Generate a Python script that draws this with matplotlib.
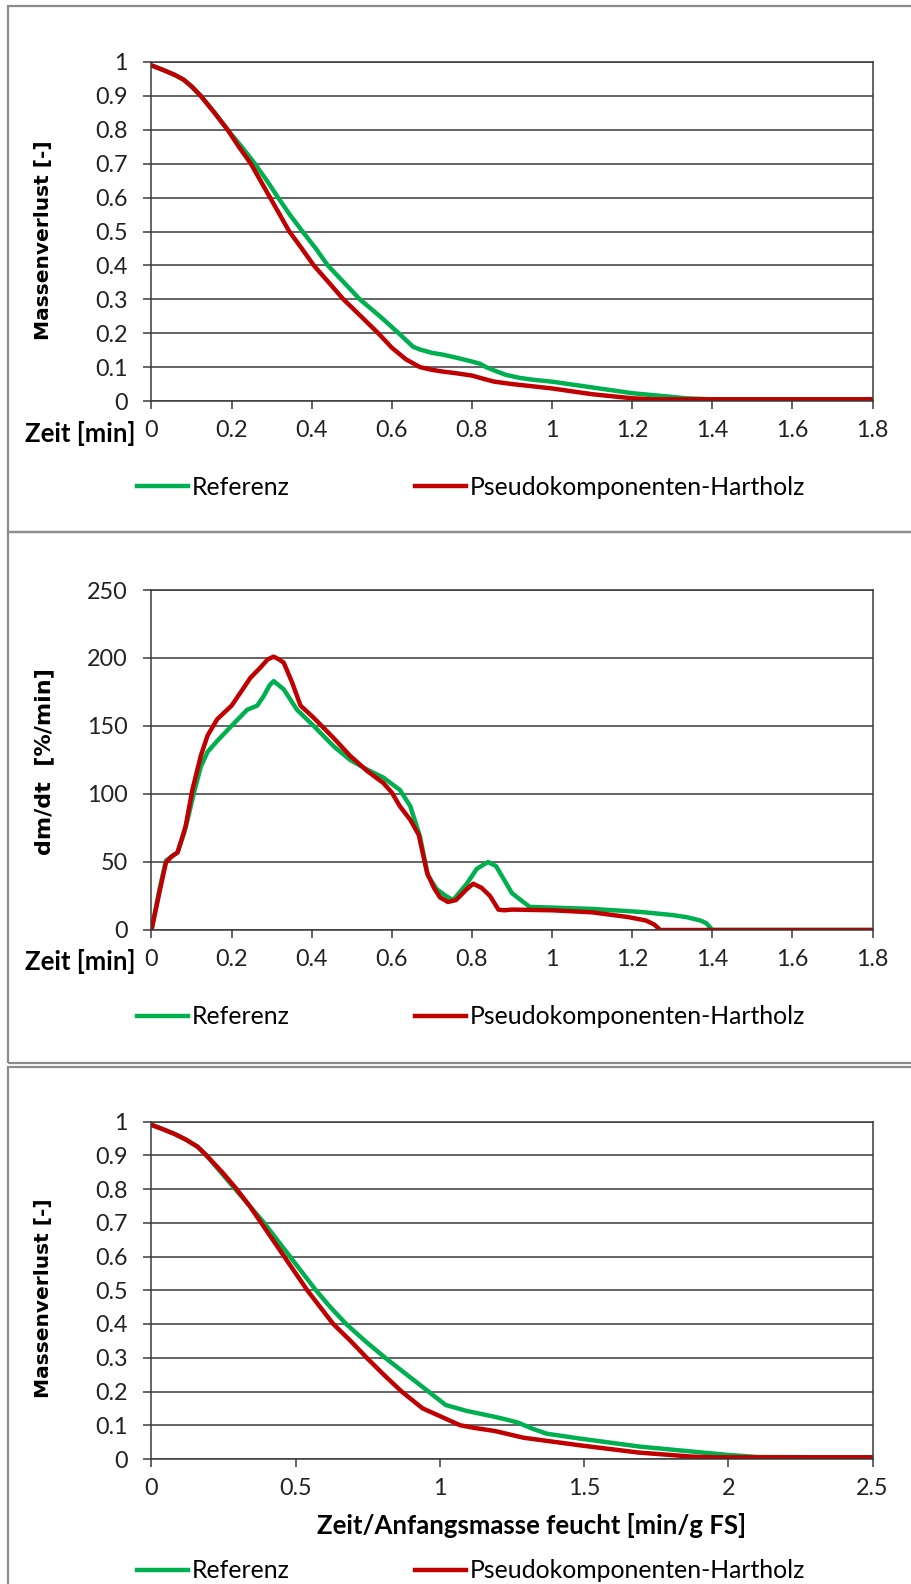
import matplotlib
matplotlib.use("Agg")
import matplotlib.pyplot as plt
from matplotlib.patches import Rectangle

plt.rcParams['font.family'] = ['Lato', 'DejaVu Sans']

# --- Daten ---

# Massenverlust ueber Zeit [min]
t1_ref = [0, 0.03, 0.058, 0.08, 0.1, 0.123, 0.155, 0.19, 0.225, 0.258, 0.288, 0.316, 0.345, 0.377, 0.41,
          0.44, 0.48, 0.52, 0.57, 0.617, 0.653, 0.67, 0.7, 0.726, 0.76, 0.798, 0.82, 0.835, 0.86, 0.885,
          0.92, 0.95, 1.0, 1.1, 1.2, 1.3, 1.335, 1.4, 1.6, 1.8]
m1_ref = [0.99, 0.976, 0.962, 0.948, 0.928, 0.9, 0.855, 0.8, 0.75, 0.7, 0.65, 0.6, 0.55, 0.5, 0.45,
          0.4, 0.35, 0.3, 0.25, 0.2, 0.16, 0.152, 0.142, 0.137, 0.128, 0.117, 0.11, 0.1, 0.088, 0.077,
          0.068, 0.063, 0.057, 0.04, 0.023, 0.012, 0.008, 0.005, 0.005, 0.005]
t1_pk = [0, 0.03, 0.058, 0.08, 0.1, 0.123, 0.155, 0.19, 0.218, 0.248, 0.272, 0.296, 0.32, 0.344, 0.375,
         0.405, 0.44, 0.479, 0.52, 0.566, 0.6, 0.635, 0.67, 0.7, 0.726, 0.76, 0.8, 0.83, 0.856, 0.9,
         1.0, 1.1, 1.2, 1.25, 1.4, 1.6, 1.8]
m1_pk = [0.99, 0.976, 0.962, 0.948, 0.928, 0.9, 0.853, 0.8, 0.75, 0.7, 0.65, 0.6, 0.55, 0.5, 0.45,
         0.4, 0.353, 0.3, 0.253, 0.2, 0.157, 0.123, 0.1, 0.092, 0.087, 0.082, 0.075, 0.065, 0.057, 0.05,
         0.037, 0.02, 0.008, 0.005, 0.005, 0.005, 0.005]

# dm/dt [%/min] ueber Zeit [min]
t2_ref = [0, 0.02, 0.036, 0.05, 0.065, 0.08, 0.09, 0.106, 0.123, 0.14, 0.164, 0.206, 0.239, 0.264, 0.28,
          0.295, 0.305, 0.33, 0.363, 0.405, 0.455, 0.496, 0.538, 0.579, 0.62, 0.646, 0.67, 0.69, 0.712, 0.735,
          0.753, 0.787, 0.812, 0.84, 0.86, 0.9, 0.944, 1.0, 1.1, 1.22, 1.3, 1.335, 1.37, 1.385, 1.4,
          1.6, 1.8]
r2_ref = [0, 30, 51, 54, 57, 70, 81, 101, 120, 131, 139, 152, 162, 165, 172,
          180, 183, 177, 162, 150, 135, 125, 118, 112, 103, 91, 69, 40, 30, 25,
          22, 34, 45, 50, 47, 27, 17, 16.5, 15.5, 13.3, 11, 9.5, 7, 5, 0,
          0, 0]
t2_pk = [0, 0.02, 0.036, 0.05, 0.065, 0.085, 0.102, 0.123, 0.14, 0.164, 0.2, 0.222, 0.247, 0.272, 0.29,
         0.305, 0.318, 0.33, 0.351, 0.372, 0.405, 0.455, 0.496, 0.538, 0.579, 0.6, 0.62, 0.646, 0.667, 0.688,
         0.705, 0.72, 0.74, 0.76, 0.787, 0.803, 0.824, 0.845, 0.866, 0.88, 0.9, 1.0, 1.1, 1.19, 1.234,
         1.255, 1.27, 1.4, 1.6, 1.8]
r2_pk = [0, 28, 49.5, 54, 57, 76, 103, 128, 143, 155, 165, 174.5, 185.5, 193, 199,
         201, 199, 196.6, 182, 165, 156, 141, 128, 117, 108, 101, 91, 81, 70, 42,
         31, 24, 20.6, 22, 30, 34, 31, 25, 15, 14.5, 15, 14.5, 13, 9.5, 7,
         4, 0, 0, 0, 0]

# Massenverlust ueber Zeit/Anfangsmasse feucht [min/g FS]
x3_ref = [0, 0.04, 0.08, 0.12, 0.16, 0.19, 0.24, 0.29, 0.34, 0.39, 0.435, 0.48, 0.525, 0.57, 0.62,
          0.675, 0.74, 0.81, 0.885, 0.96, 1.02, 1.09, 1.19, 1.23, 1.27, 1.32, 1.37, 1.49, 1.69, 1.9,
          2.0, 2.1, 2.3, 2.5]
m3_ref = [0.99, 0.977, 0.963, 0.946, 0.925, 0.9, 0.85, 0.8, 0.75, 0.7, 0.65, 0.6, 0.55, 0.5, 0.45,
          0.4, 0.35, 0.3, 0.25, 0.2, 0.16, 0.143, 0.125, 0.117, 0.108, 0.09, 0.075, 0.06, 0.037, 0.02,
          0.012, 0.006, 0.005, 0.005]
x3_pk = [0, 0.04, 0.08, 0.12, 0.16, 0.19, 0.245, 0.295, 0.34, 0.38, 0.42, 0.46, 0.5, 0.54, 0.585,
         0.63, 0.69, 0.746, 0.805, 0.867, 0.94, 1.0, 1.07, 1.12, 1.19, 1.29, 1.49, 1.69, 1.875, 1.95,
         2.2, 2.5]
m3_pk = [0.99, 0.977, 0.963, 0.946, 0.925, 0.9, 0.85, 0.8, 0.75, 0.7, 0.65, 0.6, 0.55, 0.5, 0.45,
         0.4, 0.35, 0.3, 0.25, 0.2, 0.15, 0.127, 0.1, 0.092, 0.083, 0.063, 0.04, 0.019, 0.007, 0.005,
         0.005, 0.005]

# Achsenbeschriftungen
xt_zeit = [0, 0.2, 0.4, 0.6, 0.8, 1.0, 1.2, 1.4, 1.6, 1.8]
xl_zeit = ["0", "0.2", "0.4", "0.6", "0.8", "1", "1.2", "1.4", "1.6", "1.8"]
yt_mass = [0, 0.1, 0.2, 0.3, 0.4, 0.5, 0.6, 0.7, 0.8, 0.9, 1.0]
yl_mass = ["0", "0.1", "0.2", "0.3", "0.4", "0.5", "0.6", "0.7", "0.8", "0.9", "1"]
yt_rate = [0, 50, 100, 150, 200, 250]
yl_rate = ["0", "50", "100", "150", "200", "250"]
xt_norm = [0, 0.5, 1.0, 1.5, 2.0, 2.5]
xl_norm = ["0", "0.5", "1", "1.5", "2", "2.5"]

lbl_ref = "Referenz"
lbl_pk = "Pseudokomponenten-Hartholz"
GREEN = "#00B050"
RED = "#C00000"

W, H = 912, 1584
fig = plt.figure(figsize=(W / 100, H / 100), dpi=100)


def fx(x):
    return x / W


def fy(y):
    return 1 - y / H


# Rahmen der drei Diagramme
for y0, y1 in [(6, 532), (532, 1063), (1067, 1620)]:
    fig.patches.append(Rectangle((fx(8), fy(y1)), fx(940 - 8), (y1 - y0) / H, transform=fig.transFigure,
                                 fill=False, edgecolor="#8c8c8c", lw=1.6))


def make_axes(top, bottom):
    return fig.add_axes([fx(151.5), fy(bottom), fx(872.6 - 151.5), (bottom - top) / H])


def style(ax, xmax, xt, xl, ymax, yt, yl):
    ax.set_xlim(0, xmax)
    ax.set_ylim(0, ymax)
    ax.set_xticks(xt, xl)
    ax.set_yticks(yt, yl)
    ax.grid(axis="y", color="#3a3a3a", lw=1.1)
    ax.set_axisbelow(True)
    for s in ax.spines.values():
        s.set_color("#3a3a3a")
        s.set_linewidth(1.1)
    ax.tick_params(axis="x", direction="out", length=6, width=1.1, color="#3a3a3a",
                   labelsize=16.8, pad=8, labelcolor="#222222")
    ax.tick_params(axis="y", direction="out", length=6, width=1.1, color="#3a3a3a",
                   labelsize=16.8, pad=11, labelcolor="#222222")


def legend(ax, y):
    ax.legend(ncol=2, loc="center left", bbox_to_anchor=(fx(137), fy(y)), bbox_transform=fig.transFigure,
              frameon=False, fontsize=17.8, handlelength=2.05, handletextpad=0.15, columnspacing=5.1,
              borderpad=0, borderaxespad=0)


# Diagramm 1
ax1 = make_axes(62, 401)
ax1.plot(t1_ref, m1_ref, color=GREEN, lw=3.2, label=lbl_ref)
ax1.plot(t1_pk, m1_pk, color=RED, lw=3.2, label=lbl_pk)
style(ax1, 1.8, xt_zeit, xl_zeit, 1.0, yt_mass, yl_mass)
legend(ax1, 487)
fig.text(fx(44), fy(240), "Massenverlust [-]", rotation=90, ha="center", va="center",
         family="DejaVu Sans", weight="bold", size=14.5)
fig.text(fx(136), fy(433), "Zeit [min]", ha="right", va="center", weight="bold", size=18.5)

# Diagramm 2
ax2 = make_axes(590, 930)
ax2.plot(t2_ref, r2_ref, color=GREEN, lw=3.2, label=lbl_ref)
ax2.plot(t2_pk, r2_pk, color=RED, lw=3.2, label=lbl_pk)
style(ax2, 1.8, xt_zeit, xl_zeit, 250, yt_rate, yl_rate)
legend(ax2, 1017)
fig.text(fx(44), fy(762), "dm/dt  [%/min]", rotation=90, ha="center", va="center",
         family="DejaVu Sans", weight="bold", size=16)
fig.text(fx(136), fy(961), "Zeit [min]", ha="right", va="center", weight="bold", size=18.5)

# Diagramm 3
ax3 = make_axes(1121.5, 1459)
ax3.plot(x3_ref, m3_ref, color=GREEN, lw=3.2, label=lbl_ref)
ax3.plot(x3_pk, m3_pk, color=RED, lw=3.2, label=lbl_pk)
style(ax3, 2.5, xt_norm, xl_norm, 1.0, yt_mass, yl_mass)
legend(ax3, 1571)
fig.text(fx(44), fy(1298), "Massenverlust [-]", rotation=90, ha="center", va="center",
         family="DejaVu Sans", weight="bold", size=14.5)
fig.text(fx(532), fy(1525), "Zeit/Anfangsmasse feucht [min/g FS]", ha="center", va="center",
         weight="bold", size=18.5)

fig.savefig("out.png", dpi=100)
